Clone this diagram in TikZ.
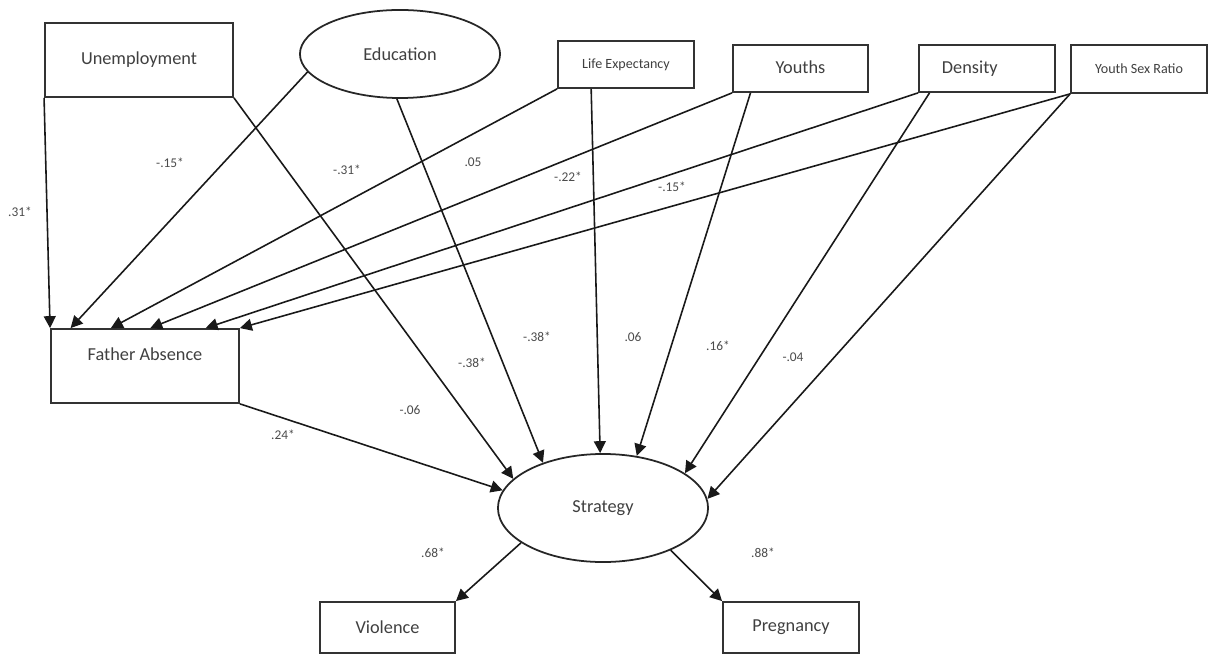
\documentclass[tikz,border=0pt]{standalone}
\usepackage{fontspec}
\setmainfont{Carlito}
\usetikzlibrary{arrows.meta,shapes.geometric}

\begin{document}
\begin{tikzpicture}[x=0.01cm,y=-0.01cm,
    box/.style={draw=black!80,line width=0.5pt,rectangle,inner sep=1pt,text=black!75,
                font=\fontsize{5.2}{6}\selectfont},
    oval/.style={draw=black!85,line width=0.5pt,ellipse,inner sep=1pt,text=black!75,
                font=\fontsize{5.2}{6}\selectfont},
    small/.style={font=\fontsize{4}{5}\selectfont},
    coef/.style={text=black!70,inner sep=0pt,font=\fontsize{3.8}{4.5}\selectfont},
    path/.style={draw=black!90,line width=0.45pt,-{Triangle[length=3.4pt,width=3.4pt]}}]
    \clip (0,0) rectangle (1216,655);
    \fill[white] (0,0) rectangle (1216,655);

    % exogenous variables
    \node[box,minimum width=1.88cm,minimum height=0.74cm] (unemp) at (139,60) {Unemployment};
    \node[oval,minimum width=2cm,minimum height=0.88cm] (educ) at (400,54) {Education};
    \node[box,small,minimum width=1.36cm,minimum height=0.47cm] (lifeexp) at (626,64.5) {Life Expectancy};
    \node[box,minimum width=1.35cm,minimum height=0.47cm,text height=1.5mm,text depth=0.4mm] (youths) at (800.5,68.5) {Youths};
    \node[box,minimum width=1.36cm,minimum height=0.47cm,text width=0.9cm] (density) at (987,68.5) {Density};
    \node[box,small,minimum width=1.36cm,minimum height=0.48cm] (ysr) at (1139,69) {Youth Sex Ratio};

    % mediators and outcomes
    \node[box,minimum width=1.88cm,minimum height=0.74cm,text height=1.5mm,text depth=2.5mm] (father) at (145,366) {Father Absence};
    \node[oval,minimum width=2.1cm,minimum height=1.08cm] (strat) at (603,508) {Strategy};
    \node[box,minimum width=1.35cm,minimum height=0.51cm] (viol) at (387.5,627.5) {Violence};
    \node[box,minimum width=1.36cm,minimum height=0.51cm] (preg) at (791,627.5) {Pregnancy};

    % paths to father absence
    \draw[path] (unemp.south west) -- (father.north west);
    \draw[path] (educ.191) -- (father.153);
    \draw[path] (lifeexp.south west) -- (father.132);
    \draw[path] (youths.south west) -- (father.82);
    \draw[path] (density.south west) -- (father.32);
    \draw[path] (ysr.south west) -- (father.north east);

    % paths to strategy
    \draw[path] (unemp.south east) -- (strat.162);
    \draw[path] (educ.266) -- (strat.143);
    \draw[path] (lifeexp.215) -- (strat.93);
    \draw[path] (youths.206) -- (strat.57);
    \draw[path] (density.203) -- (strat.23);
    \draw[path] (ysr.south west) -- (strat.5);
    \draw[path] (father.south east) -- (strat.170);

    % indicators
    \draw[path] (strat.203) -- (viol.north east);
    \draw[path] (strat.328) -- (preg.north west);

    % coefficients
    \node[coef] (c1) at (20,212) {.31*};
    \node[coef] (c2) at (170,163) {-.15*};
    \node[coef] (c3) at (347,170) {-.31*};
    \node[coef] (c4) at (473,162) {.05};
    \node[coef] (c5) at (568,177) {-.22*};
    \node[coef] (c6) at (672,187) {-.15*};
    \node[coef] (c7) at (537,337) {-.38*};
    \node[coef] (c8) at (472,363) {-.38*};
    \node[coef] (c9) at (633,337) {.06};
    \node[coef] (c10) at (718,346) {.16*};
    \node[coef] (c11) at (793,357) {-.04};
    \node[coef] (c12) at (410,410) {-.06};
    \node[coef] (c13) at (283,435) {.24*};
    \node[coef] (c14) at (433,553) {.68*};
    \node[coef] (c15) at (763,553) {.88*};
\end{tikzpicture}
\end{document}
